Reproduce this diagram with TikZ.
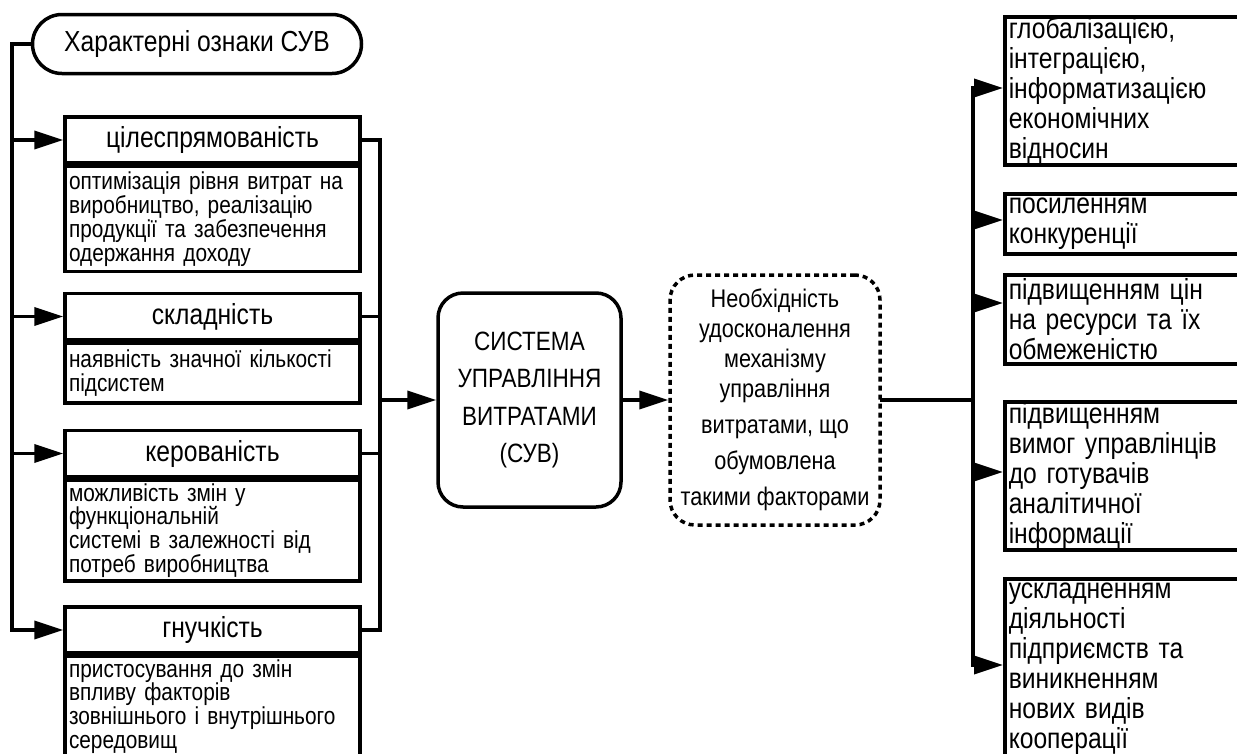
\documentclass[tikz,border=0pt]{standalone}
\usepackage{fontspec}
\setmainfont{Liberation Sans}[FakeStretch=0.85]
\usetikzlibrary{arrows.meta,shapes.misc}

\begin{document}
\begin{tikzpicture}[x=1pt,y=-1pt,
  conn/.style={line width=3.5pt,line cap=rect},
  arr/.style={line width=3.5pt,-{Triangle[length=29pt,width=18pt]}},
  pill/.style={draw,line width=3.5pt,rounded rectangle,minimum width=329pt,minimum height=59pt,
    inner sep=0pt,font=\fontsize{29}{32}\selectfont},
  hdr/.style={draw,line width=3.5pt,rectangle,minimum width=295pt,minimum height=46pt,
    inner sep=0pt,font=\fontsize{29}{32}\selectfont},
  body/.style={draw,line width=3.5pt,rectangle,anchor=north,minimum width=295pt,text width=287pt,
    inner xsep=4pt,inner ysep=0pt,align=left,font=\fontsize{24.5}{23.8}\selectfont},
  core/.style={draw,line width=3.5pt,rectangle,rounded corners=25pt,minimum width=183pt,
    minimum height=214pt,inner sep=0pt,align=center,font=\fontsize{26.5}{37.5}\selectfont},
  need/.style={draw,line width=3.5pt,dash pattern=on 5pt off 4pt,rectangle,rounded corners=25pt,
    minimum width=210pt,minimum height=250pt,inner sep=0pt,align=center,
    font=\fontsize{25.5}{30}\selectfont},
  rbox/.style={draw,line width=3.5pt,rectangle,anchor=north west,minimum width=262pt,
    text width=254pt,inner xsep=4pt,inner ysep=0pt,align=left,font=\fontsize{29}{30}\selectfont}
]
\useasboundingbox (0,0) rectangle (1237,753);
\fill[white] (0,0) rectangle (1237,753);
\clip (0,0) rectangle (1237,753);

% title
\node[pill] (title) at (197,44) {Характерні ознаки СУВ};

% characteristic boxes: header + description
\node[hdr] (h1) at (212.5,140) {цілеспрямованість};
\node[body,minimum height=105pt] (d1) at (h1.south)
  {оптимізація рівня витрат на\\виробництво, реалізацію\\продукції та забезпечення\\одержання доходу};
\node[hdr] (h2) at (212.5,316.5) {складність};
\node[body,minimum height=60pt] (d2) at (h2.south)
  {наявність значної кількості\\підсистем};
\node[hdr] (h3) at (212.5,453.5) {керованість};
\node[body,minimum height=101pt] (d3) at (h3.south)
  {можливість змін у\\функціональній\\системі в залежності від\\потреб виробництва};
\node[hdr] (h4) at (212.5,630) {гнучкість};
\node[body,minimum height=100pt] (d4) at (h4.south)
  {пристосування до змін\\впливу факторів\\зовнішнього і внутрішнього\\середовищ};

% central blocks
\node[core] (suv) at (529.5,400) {СИСТЕМА\\УПРАВЛІННЯ\\ВИТРАТАМИ\\(СУВ)};
\node[need] (nd) at (775,400)
  {Необхідність\\удосконалення\\механізму\\управління\\[6pt]витратами, що\\[6pt]обумовлена\\[6pt]такими факторами};

% factor boxes
\node[rbox,minimum height=148pt] (r1) at (1003,15)
  {глобалізацією,\\інтеграцією,\\інформатизацією\\економічних\\відносин};
\node[rbox,minimum height=60pt] (r2) at (1003,192) {посиленням\\конкуренції};
\node[rbox,minimum height=89pt] (r3) at (1003,273) {підвищенням цін\\на ресурси та їх\\обмеженістю};
\node[rbox,minimum height=148pt] (r4) at (1003,400)
  {підвищенням\\вимог управлінців\\до готувачів\\аналітичної\\інформації};
\node[rbox,minimum height=180pt] (r5) at (1003,577)
  {ускладненням\\діяльності\\підприємств та\\виникненням\\нових видів\\кооперації};

% left trunk
\coordinate (lt) at (12,44);
\draw[arr] (title.west) -- (lt) |- (h4.west);
\draw[arr] (lt |- h1.west) -- (h1.west);
\draw[arr] (lt |- h2.west) -- (h2.west);
\draw[arr] (lt |- h3.west) -- (h3.west);

% collector to the cost management system
\coordinate (lr) at (380,400);
\draw[conn] (h1.east) -| (lr) |- (h4.east);
\draw[conn] (h2.east) -- (h2.east -| lr);
\draw[conn] (h3.east) -- (h3.east -| lr);
\draw[arr] (lr) -- (suv.west);
\draw[arr] (suv.east) -- (nd.west);

% right trunk
\coordinate (a1) at (973,88);
\coordinate (a2) at (973,220);
\coordinate (a3) at (973,303);
\coordinate (a4) at (973,472);
\coordinate (a5) at (973,665);
\draw[conn] (nd.east) -- (nd.east -| a1);
\draw[conn] (a1) -- (a5);
\draw[arr] (a1) -- (a1 -| r1.west);
\draw[arr] (a2) -- (a2 -| r2.west);
\draw[arr] (a3) -- (a3 -| r3.west);
\draw[arr] (a4) -- (a4 -| r4.west);
\draw[arr] (a5) -- (a5 -| r5.west);
\end{tikzpicture}
\end{document}
